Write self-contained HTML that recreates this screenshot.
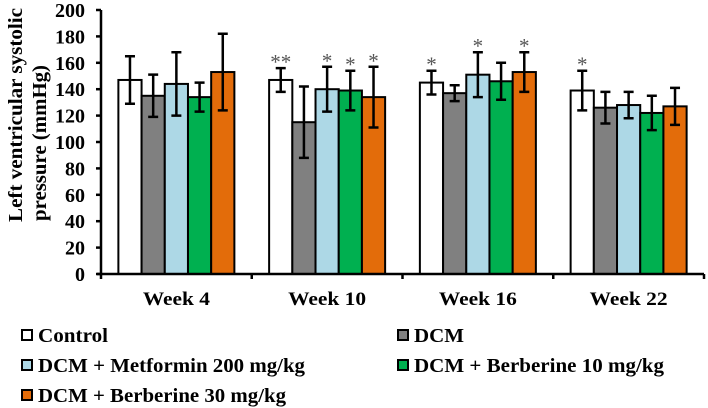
<!DOCTYPE html>
<html><head><meta charset="utf-8"><style>
html,body{margin:0;padding:0;background:#fff;}
svg{display:block;font-family:"Liberation Serif",serif;font-weight:bold;}
</style></head><body>
<svg id="chart" width="708" height="408" viewBox="0 0 708 408">
<g id="plot"></g>
<g>
<text x="16" y="115" transform="rotate(-90 16 115)" text-anchor="middle" font-size="20" dominant-baseline="central" textLength="214" lengthAdjust="spacingAndGlyphs">Left ventricular systolic</text>
<text x="40" y="143" transform="rotate(-90 40 143)" text-anchor="middle" font-size="20" dominant-baseline="central" textLength="156" lengthAdjust="spacingAndGlyphs">pressure (mmHg)</text>
</g>
<g id="legend"></g>
</svg>
<script>
const categories = ["Week 4","Week 10","Week 16","Week 22"];
const seriesNames = ["Control","DCM","DCM + Metformin 200 mg/kg","DCM + Berberine 10 mg/kg","DCM + Berberine 30 mg/kg"];
const seriesColors = ["#ffffff","#808080","#add8e6","#00b050","#e36c0a"];
const control = [147,147,145,139];
const dcm = [135,115,137,126];
const metformin = [144,140,151,128];
const berb10 = [134,139,146,122];
const berb30 = [153,134,153,127];
const errControl = [18,9,9,15];
const errDcm = [16,27,6,12];
const errMetformin = [24,17,17,10];
const errBerb10 = [11,15,14,13];
const errBerb30 = [29,23,15,14];
const starsControl = ["","**","*","*"];
const starsDcm = ["","","",""];
const starsMetformin = ["","*","*",""];
const starsBerb10 = ["","*","",""];
const starsBerb30 = ["","*","*",""];
const yTicks = [0,20,40,60,80,100,120,140,160,180,200];

const values=[control,dcm,metformin,berb10,berb30];
const errs=[errControl,errDcm,errMetformin,errBerb10,errBerb30];
const stars=[starsControl,starsDcm,starsMetformin,starsBerb10,starsBerb30];
const NS="http://www.w3.org/2000/svg";
const X0=101,X1=704,Y0=274,Y1=10,YMAX=200;
const gw=(X1-X0)/categories.length, bw=23.2, gpad=(gw-bw*5)/2;
const y=v=>Y0-(v/YMAX)*(Y0-Y1);
const plot=document.getElementById('plot');
function mk(tag,attrs,parent){const e=document.createElementNS(NS,tag);for(const k in attrs)e.setAttribute(k,attrs[k]);(parent||plot).appendChild(e);return e;}

for(let c=0;c<categories.length;c++){
  for(let s=0;s<5;s++){
    const x=X0+c*gw+gpad+s*bw, v=values[s][c], e=errs[s][c];
    const r=mk('rect',{x:x,y:y(v),width:bw,height:Y0-y(v),fill:seriesColors[s],stroke:'#000','stroke-width':2});
    
    
    const cx=x+bw/2;
    const eb=mk('path',{d:`M${cx},${y(v+e)}V${y(v-e)}M${cx-5},${y(v+e)}H${cx+5}M${cx-5},${y(v-e)}H${cx+5}`,stroke:'#000','stroke-width':2.5,fill:'none'});
    
    
    if(stars[s][c]){
      const t=mk('text',{x:cx,y:y(v+e)+1,'text-anchor':'middle','font-size':21,fill:'#555','font-weight':'normal'});
      t.textContent=stars[s][c];
      
      
    }
  }
  const t=mk('text',{x:X0+c*gw+gw/2,y:305,'text-anchor':'middle','font-size':19,textLength:categories[c].length>6?78:67,lengthAdjust:'spacingAndGlyphs'});
  t.textContent=categories[c];
  
  
}
const ya=mk('path',{d:`M${X0},${Y1}V${Y0}`,stroke:'#000','stroke-width':2.5});


const xa=mk('path',{d:`M${X0-4},${Y0}H${X1}`,stroke:'#000','stroke-width':2.5});


for(let c=0;c<=categories.length;c++){
  const xt=mk('path',{d:`M${X0+c*gw},${Y0}V${Y0+5}`,stroke:'#000','stroke-width':2.5});
  
  
}
for(const v of yTicks){
  const tk=mk('path',{d:`M${X0-5},${y(v)}H${X0}`,stroke:'#000','stroke-width':2.5});
  
  
  const t=mk('text',{x:85,y:y(v)+7,'text-anchor':'end','font-size':20});
  t.textContent=v;
  
  
}
const lg=document.getElementById('legend');
const lpos=[[22,335],[398,335],[22,365],[398,365],[22,395]];
const lw=[70,50,267,250,248];
for(let s=0;s<5;s++){
  const [lx,ly]=lpos[s];
  const b=mk('rect',{x:lx,y:ly-5,width:10,height:10,fill:seriesColors[s],stroke:'#000','stroke-width':2},lg);
  
  
  const t=mk('text',{x:lx+16,y:ly+7,'font-size':20,textLength:lw[s],lengthAdjust:'spacingAndGlyphs'},lg);
  t.textContent=seriesNames[s];
  
  
}
</script>
</body></html>
